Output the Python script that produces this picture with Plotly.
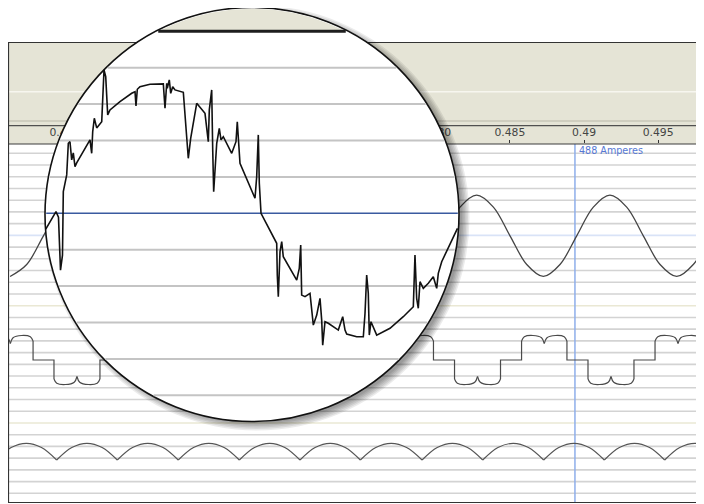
import numpy as np
import plotly.graph_objects as go

# the page body adds an 8 px margin; the figure is sized to fill the rest
OFF = 8
FW, FH = 696, 496
Y_BOTTOM = OFF + FH

# ---------------- data ----------------
tick_vals = [0.455, 0.46, 0.465, 0.47, 0.475, 0.48, 0.485, 0.49, 0.495]
tick_text = ["0.455", "0.46", "0.465", "0.47", "0.475", "0.480", "0.485", "0.49", "0.495"]

cursor_t = 0.48939
cursor_label = "488 Amperes"

# top band: smooth sine (amperes)
sine_t = [0.45130, 0.45242, 0.45355, 0.45467, 0.45579, 0.45692, 0.45804, 0.45917,
          0.46030, 0.46141, 0.46254, 0.46366, 0.46478, 0.46591, 0.46703, 0.46816,
          0.46928, 0.47040, 0.47153, 0.47265, 0.47377, 0.47490, 0.47602, 0.47715,
          0.47827, 0.47939, 0.48052, 0.48164, 0.48276, 0.48389, 0.48501, 0.48614,
          0.48726, 0.48838, 0.48951, 0.49063, 0.49175, 0.49288, 0.49400, 0.49513,
          0.49625, 0.49737, 0.49850]
sine_a = [-630, -445, 0, 445, 630, 445, 0, -445,
          -630, -445, 0, 445, 630, 445, 0, -445,
          -630, -445, 0, 445, 630, 445, 0, -445,
          -630, -445, 0, 445, 630, 445, 0, -445,
          -630, -445, 0, 445, 630, 445, 0, -445,
          -630, -445, 0]

# middle band: stepped line current (amperes)
step_lobe_start = [0.44978, 0.45426, 0.45878, 0.46326, 0.46778, 0.47227,
                   0.47678, 0.48127, 0.48579, 0.49027, 0.49479]
step_lobe_end = [0.45285, 0.45736, 0.46185, 0.46637, 0.47085, 0.47537,
                 0.47985, 0.48437, 0.48885, 0.49337, 0.49789]
step_lobe_sign = [1, -1, 1, -1, 1, -1, 1, -1, 1, -1, 1]
lobe_profile_frac = [0.0, 0.06, 0.25, 0.44, 0.50, 0.56, 0.75, 0.94, 1.0]
lobe_profile_a = [190, 232, 245, 222, 165, 222, 245, 232, 190]

# bottom band: rectified ripple (volts)
ripple_cusp_t = [0.45035, 0.45444, 0.45853, 0.46264, 0.46676, 0.47085, 0.47492,
                 0.47908, 0.48317, 0.48728, 0.49137, 0.49544, 0.49951]
ripple_profile_frac = [0.0, 0.25, 0.5, 0.75, 1.0]
ripple_profile_v = [473, 523, 540, 523, 473]

# magnified raw signal inside the lens (ms, amperes)
zoom_t_ms = [0.017, 0.239, 0.293, 0.337, 0.380, 0.398, 0.472, 0.507, 0.543, 0.580,
             0.615, 0.652, 0.689, 0.978, 1.015, 1.037, 1.072, 1.124, 1.233, 1.283,
             1.320, 1.363, 1.413, 1.630, 1.885, 1.957, 1.978, 2.007, 2.065, 2.283,
             2.572, 2.609, 2.646, 2.659, 2.702, 2.733, 2.776, 2.826, 3.007, 3.043,
             3.080, 3.115, 3.167, 3.298, 3.478, 3.550, 3.572, 3.624, 3.646, 3.667,
             3.733, 3.789, 3.826, 3.876, 4.059, 4.152, 4.180, 4.211, 4.239, 4.565,
             4.602, 4.637, 4.659, 4.696, 5.037, 5.050, 5.072, 5.109, 5.146, 5.180,
             5.472, 5.528, 5.559, 5.580, 5.652, 5.761, 5.798, 5.833, 5.907, 5.978,
             6.015, 6.037, 6.087, 6.159, 6.376, 6.472, 6.522, 6.559, 6.776, 6.920,
             6.957, 6.993, 7.028, 7.050, 7.087, 7.137, 7.211, 7.500, 7.789, 8.007,
             8.043, 8.080, 8.115, 8.152, 8.224, 8.333, 8.441, 8.515, 8.550, 8.624,
             8.967]
zoom_a = [-79, 8, -19, -284, -209, 108, 192, 350, 358, 267,
          302, 233, 252, 367, 300, 408, 475, 427, 458, 717,
          683, 492, 517, 558, 600, 608, 537, 620, 633, 645,
          647, 525, 650, 625, 667, 600, 633, 617, 605, 483,
          342, 275, 375, 550, 500, 358, 517, 617, 317, 108,
          350, 425, 367, 383, 300, 358, 458, 342, 250, 75,
          183, 392, 150, 0, -150, -309, -417, -192, -142, -217,
          -334, -275, -159, -409, -417, -400, -475, -559, -509, -425,
          -534, -659, -542, -550, -584, -517, -584, -604, -617, -617,
          -500, -309, -400, -609, -542, -567, -609, -575, -517, -467,
          -209, -425, -475, -342, -375, -350, -317, -375, -300, -242,
          -75]
zoom_grid_step_a = 182

# ---------------- layout helpers (page pixel geometry) ----------------
def px(X):
    return (X - OFF) / FW


def py(Y):
    return 1 - (Y - OFF) / FH


def zx(X):  # lens x pixel -> lens axis (ms)
    return (X - 45.0) / 46.0


def zy(Y):  # lens y pixel -> lens axis (A)
    return (213.3 - Y) * 5.0


def zY(a):  # lens axis (A) -> y pixel
    return 213.3 - a / 5.0


LENS_CX, LENS_CY, LENS_R = 252.0, 214.5, 207.0

fig = go.Figure()

# ---- base traces ----
fig.add_trace(go.Scatter(x=sine_t, y=sine_a, xaxis="x", yaxis="y", mode="lines",
                         line=dict(color="#444444", width=1.3, shape="spline"),
                         hoverinfo="skip"))

frame_x, frame_y, hump_x, hump_y = [], [], [], []
for t0, t1, s in zip(step_lobe_start, step_lobe_end, step_lobe_sign):
    w = t1 - t0
    frame_x += [t0, t0, None, t1, t1]
    frame_y += [0, s * lobe_profile_a[0], None, s * lobe_profile_a[-1], 0]
    for seg in (range(0, 5), range(4, 9)):
        hump_x += [t0 + lobe_profile_frac[i] * w for i in seg] + [None]
        hump_y += [s * lobe_profile_a[i] for i in seg] + [None]
fig.add_trace(go.Scatter(x=frame_x, y=frame_y, xaxis="x", yaxis="y3", mode="lines",
                         line=dict(color="#4a4a4a", width=1.2), hoverinfo="skip"))
fig.add_trace(go.Scatter(x=hump_x, y=hump_y, xaxis="x", yaxis="y3", mode="lines",
                         line=dict(color="#4a4a4a", width=1.2, shape="spline"),
                         hoverinfo="skip"))

rx, ry = [], []
for ta, tb in zip(ripple_cusp_t[:-1], ripple_cusp_t[1:]):
    rx += [ta + f * (tb - ta) for f in ripple_profile_frac] + [None]
    ry += list(ripple_profile_v) + [None]
fig.add_trace(go.Scatter(x=rx, y=ry, xaxis="x", yaxis="y4", mode="lines",
                         line=dict(color="#555555", width=1.2, shape="spline"),
                         hoverinfo="skip"))

# ---- lens contents ----
r_in = LENS_R - 1.2


def chord(Y):
    hw = np.sqrt(max(r_in ** 2 - (Y - LENS_CY) ** 2, 0))
    return zx(LENS_CX - hw), zx(LENS_CX + hw)


bar_a = 5 * zoom_grid_step_a
Ybar = zY(bar_a)
dy = LENS_CY - Ybar
hw = np.sqrt(r_in ** 2 - dy ** 2)
th = np.linspace(np.arctan2(dy, hw), np.arctan2(dy, -hw), 60)
capX = LENS_CX + r_in * np.cos(th)
capY = LENS_CY - r_in * np.sin(th)
fig.add_trace(go.Scatter(x=[zx(v) for v in capX], y=[zy(v) for v in capY],
                         xaxis="x2", yaxis="y2", mode="lines", fill="toself",
                         fillcolor="#e5e4d6", line=dict(width=0), hoverinfo="skip"))

gx, gy = [], []
for k in [-5, -4, -3, -2, -1, 1, 2, 3, 4]:
    a = k * zoom_grid_step_a
    x0, x1 = chord(zY(a))
    gx += [x0, x1, None]
    gy += [a, a, None]
fig.add_trace(go.Scatter(x=gx, y=gy, xaxis="x2", yaxis="y2", mode="lines",
                         line=dict(color="#c4c4c4", width=2), hoverinfo="skip"))
x0, x1 = chord(Ybar)
fig.add_trace(go.Scatter(x=[x0, x1], y=[bar_a, bar_a], xaxis="x2", yaxis="y2", mode="lines",
                         line=dict(color="#1e1e1e", width=3), hoverinfo="skip"))
x0, x1 = chord(zY(0))
fig.add_trace(go.Scatter(x=[x0, x1], y=[0, 0], xaxis="x2", yaxis="y2", mode="lines",
                         line=dict(color="#3a5aa0", width=1.6), hoverinfo="skip"))
fig.add_trace(go.Scatter(x=zoom_t_ms, y=zoom_a, xaxis="x2", yaxis="y2", mode="lines",
                         line=dict(color="#111111", width=1.6), hoverinfo="skip"))

# ---- shapes ----
shapes = []
shapes.append(dict(type="rect", xref="paper", yref="paper", x0=px(8.5), x1=px(706),
                   y0=py(502.5), y1=py(42.5), fillcolor="#e5e4d6", line=dict(width=0),
                   layer="below"))
shapes.append(dict(type="line", xref="paper", yref="paper", x0=px(9), x1=px(706),
                   y0=py(91.7), y1=py(91.7), line=dict(color="#f7f6ef", width=1.5), layer="below"))
shapes.append(dict(type="line", xref="paper", yref="paper", x0=px(9), x1=px(706),
                   y0=py(121), y1=py(121), line=dict(color="#b8b7a8", width=1), layer="below"))
shapes.append(dict(type="line", xref="paper", yref="paper", x0=px(9), x1=px(706),
                   y0=py(125.7), y1=py(125.7), line=dict(color="#505050", width=1.2), layer="below"))
shapes.append(dict(type="rect", xref="paper", yref="paper", x0=px(9), x1=px(706),
                   y0=py(502), y1=py(144), fillcolor="white", line=dict(width=0),
                   layer="below"))
for k in range(-1, 29):
    Yk = 165 + 11.725 * k
    col = "#d3d3d3"
    if k == 6:
        col = "#d9e3f7"
    elif k in (12, 22):
        col = "#eae8d4"
    shapes.append(dict(type="line", xref="paper", yref="paper", x0=px(9), x1=px(706),
                       y0=py(Yk), y1=py(Yk), line=dict(color=col, width=1.6), layer="below"))
shapes.append(dict(type="line", xref="x", yref="paper", x0=cursor_t, x1=cursor_t,
                   y0=py(502), y1=py(144), line=dict(color="#8eaeea", width=1.5), layer="below"))
shapes.append(dict(type="line", xref="paper", yref="paper", x0=px(9), x1=px(706),
                   y0=py(144), y1=py(144), line=dict(color="#3c3c3c", width=1.2), layer="below"))
shapes.append(dict(type="rect", xref="paper", yref="paper", x0=px(8.5), x1=px(708),
                   y0=py(502.5), y1=py(42.5), fillcolor="rgba(0,0,0,0)",
                   line=dict(color="#333333", width=1.2), layer="below"))

# lens shadow + disk
sdx, sdy = 5.0, 3.5
for extra in [5.5, 4.0, 2.5, 1.0, -0.5, -2.0]:
    rr = LENS_R + extra
    cx, cy = LENS_CX + sdx, LENS_CY + sdy
    shapes.append(dict(type="circle", xref="x2", yref="y2",
                       x0=zx(cx - rr), x1=zx(cx + rr), y0=zy(cy + rr), y1=zy(cy - rr),
                       fillcolor="rgba(0,0,0,0.08)", line=dict(width=0), layer="below"))
shapes.append(dict(type="circle", xref="x2", yref="y2",
                   x0=zx(LENS_CX - LENS_R), x1=zx(LENS_CX + LENS_R),
                   y0=zy(LENS_CY + LENS_R), y1=zy(LENS_CY - LENS_R),
                   fillcolor="white", line=dict(color="#111111", width=1.6), layer="below"))

fig.update_layout(
    width=FW, height=FH, margin=dict(l=0, r=0, t=0, b=0),
    paper_bgcolor="white", plot_bgcolor="rgba(0,0,0,0)", showlegend=False,
    shapes=shapes,
    xaxis=dict(domain=[px(9), 1], range=[0.451227, 0.498092], side="top", anchor="y",
               tickmode="array", tickvals=tick_vals, ticktext=tick_text,
               ticks="outside", ticklen=3, tickwidth=1, tickcolor="#333333",
               tickfont=dict(family="DejaVu Sans", size=10.8, color="#444444"),
               showgrid=False, zeroline=False, showline=False, fixedrange=True),
    yaxis=dict(domain=[py(307), py(144)], range=[-1103, 1422], visible=False,
               anchor="x", fixedrange=True),
    yaxis3=dict(domain=[py(423), py(307)], range=[-630, 530], visible=False,
                anchor="x", fixedrange=True),
    yaxis4=dict(domain=[0, py(423)], range=[540 - (Y_BOTTOM - 443.3) * 4, 621.2],
                visible=False, anchor="x", fixedrange=True),
    xaxis2=dict(domain=[px(30), px(480)], range=[zx(30), zx(480)], visible=False,
                anchor="y2", fixedrange=True),
    yaxis2=dict(domain=[py(440), py(8)], range=[zy(440), zy(8)], visible=False,
                anchor="x2", fixedrange=True),
    annotations=[dict(x=cursor_t, xref="x", y=py(150.3), yref="paper", text=cursor_label,
                      showarrow=False, xanchor="left", yanchor="middle", xshift=2,
                      font=dict(family="DejaVu Sans", size=9.6, color="#5577d4"))],
)

fig.write_html("out.html")
